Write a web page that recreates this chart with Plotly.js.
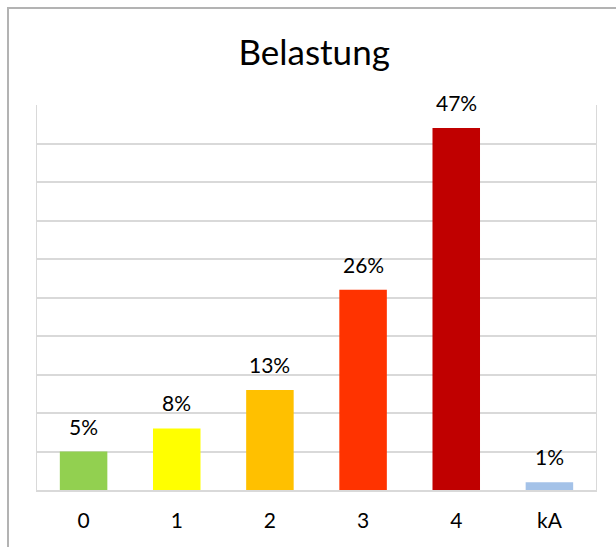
<!DOCTYPE html>
<html>
<head>
<meta charset="utf-8">
<script src="https://cdn.plot.ly/plotly-3.0.1.min.js"></script>
<style>
  html, body { margin: 0; padding: 0; background: #fff; }
  #wrap { position: relative; width: 616px; height: 547px; }
  #chart { width: 616px; height: 547px; }
  #frame { position: absolute; left: 7px; top: 7px; right: -10px; bottom: -10px;
           border-left: 2px solid #B3B3B3; border-top: 2px solid #B3B3B3; pointer-events: none; }
</style>
</head>
<body>
<div id="wrap">
  <div id="chart"></div>
  <div id="frame"></div>
</div>
<script>
const categories = ["0", "1", "2", "3", "4", "kA"];
const values = [5, 8, 13, 26, 47, 1];
const barColors = ["#92D050", "#FFFF00", "#FFC000", "#FF3300", "#C00000", "#A4C2E8"];
const chartTitle = "Belastung";

const FONT = "Lato, 'Open Sans', sans-serif";

const trace = {
  type: "bar",
  x: categories,
  y: values,
  marker: { color: barColors, line: { width: 0 } },
  hoverinfo: "skip"
};

const annotations = categories.map((c, i) => ({
  x: c, y: values[i], xref: "x", yref: "y",
  text: values[i] + "%",
  showarrow: false, yanchor: "bottom", yshift: 11,
  font: { family: FONT, size: 21, color: "#000" }
}));

const layout = {
  width: 616, height: 547,
  margin: { l: 37, r: 20, t: 105, b: 57 },
  paper_bgcolor: "#fff", plot_bgcolor: "#fff",
  title: { text: chartTitle, x: 0.51, xanchor: "center", y: 0.903, yanchor: "middle",
           font: { family: FONT, size: 35, color: "#000" } },
  bargap: 0.49,
  showlegend: false,
  xaxis: {
    type: "category",
    showgrid: false, zeroline: false,
    showline: true, linecolor: "#D9D9D9", linewidth: 2,
    ticks: "", ticklabelstandoff: 11,
    tickfont: { family: FONT, size: 21, color: "#000" },
    fixedrange: true
  },
  yaxis: {
    range: [0, 50], dtick: 5, tick0: 0,
    showticklabels: false, ticks: "",
    showgrid: true, gridcolor: "#D9D9D9", gridwidth: 2,
    zeroline: false,
    showline: true, mirror: true, linecolor: "#D9D9D9", linewidth: 1,
    fixedrange: true
  },
  annotations: annotations
};

Plotly.newPlot("chart", [trace], layout, { displayModeBar: false, staticPlot: true });
</script>
</body>
</html>
